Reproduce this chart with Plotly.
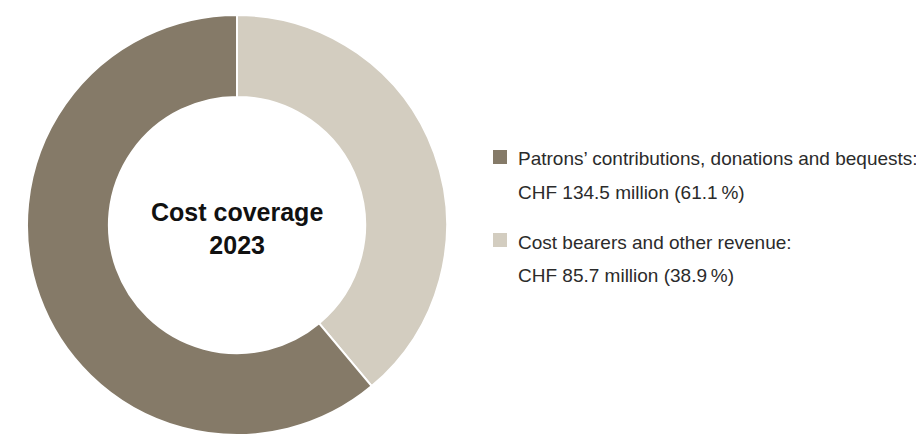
import plotly.graph_objects as go

# ---- data ----
labels = ["Patrons’ contributions, donations and bequests:", "Cost bearers and other revenue:"]
values = [134.5, 85.7]
shares = [61.1, 38.9]
colors = ["#857a68", "#d3cdc0"]
center_title = ["Cost coverage", "2023"]

# the page body has a default 8px margin; the figure is sized/offset to compensate
OFF = 8
W, H = 924 - OFF, 435 - OFF

def px(x):
    return (x - OFF) / W

def py(y):
    return 1 - (y - OFF) / H

fig = go.Figure()
# pie drawn with the smaller slice first, clockwise from 12 o'clock
fig.add_trace(go.Pie(
    labels=labels[::-1],
    values=values[::-1],
    sort=False,
    direction="clockwise",
    rotation=0,
    hole=0.61,
    textinfo="none",
    hoverinfo="label+value+percent",
    marker=dict(colors=colors[::-1], line=dict(color="white", width=2)),
    domain=dict(x=[px(27), px(447)], y=[py(435), py(15)]),
    showlegend=False,
))

annotations = [
    dict(text="<b>" + "<br>".join(center_title) + "</b>", x=px(237), y=py(228),
         xref="paper", yref="paper", xanchor="center", yanchor="middle",
         showarrow=False, font=dict(family="Liberation Sans, Arial", size=25, color="#111111"))
]
shapes = []
item_top = [150, 233]
for i, lab in enumerate(labels):
    top = item_top[i]
    shapes.append(dict(type="rect", xref="paper", yref="paper",
                       x0=px(493), x1=px(507), y0=py(top), y1=py(top + 14),
                       fillcolor=colors[i], line=dict(width=0)))
    line1 = lab
    line2 = f"CHF {values[i]:.1f} million ({shares[i]:.1f}\u202f%)"
    for j, t in enumerate([line1, line2]):
        annotations.append(dict(text=t, x=px(516), y=py(top + 9 + j * 33),
                                xref="paper", yref="paper", xanchor="left", yanchor="middle",
                                showarrow=False,
                                font=dict(family="Liberation Sans, Arial", size=19, color="#2b2b2b")))

fig.update_layout(
    width=W, height=H,
    margin=dict(l=0, r=0, t=0, b=0),
    paper_bgcolor="white", plot_bgcolor="white",
    annotations=annotations, shapes=shapes,
)

fig.write_html("out.html")
